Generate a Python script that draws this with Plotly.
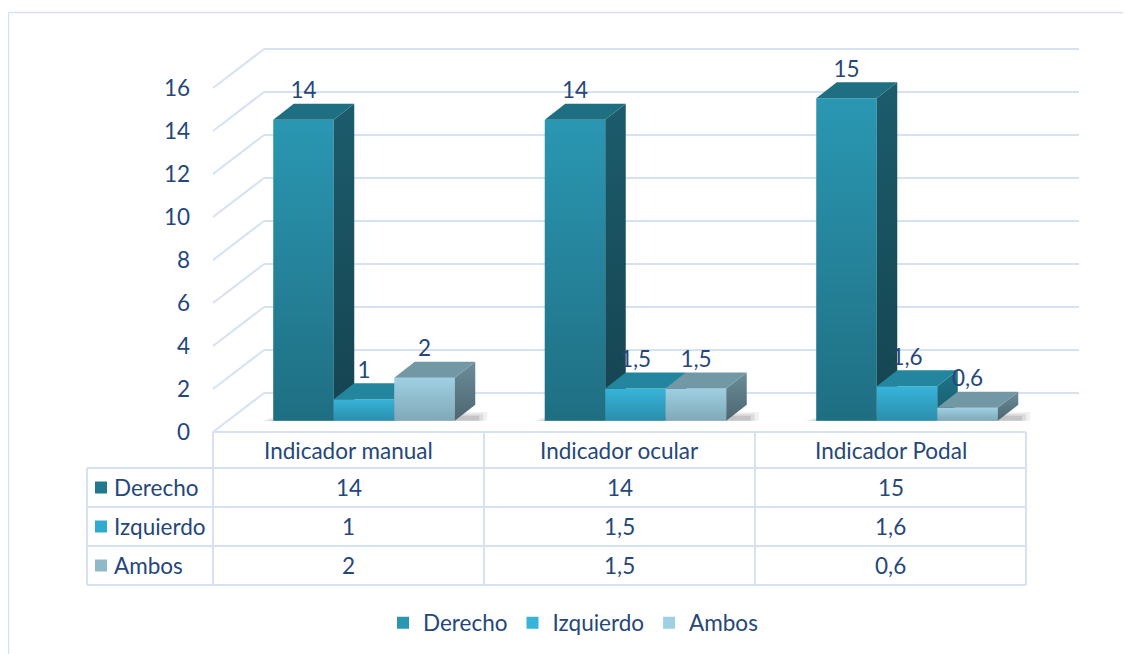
import plotly.graph_objects as go

# ---------------- data ----------------
categories = ["Indicador manual", "Indicador ocular", "Indicador Podal"]
series_names = ["Derecho", "Izquierdo", "Ambos"]
derecho = [14, 14, 15]
izquierdo = [1, 1.5, 1.6]
ambos = [2, 1.5, 0.6]
y_ticks = [0, 2, 4, 6, 8, 10, 12, 14, 16]

series_values = [derecho, izquierdo, ambos]

# ---------------- styling / layout constants ----------------
PAGE_OFF = 8                      # default body margin of the html page
W, H = 1131 - PAGE_OFF, 654 - PAGE_OFF
FONT = "Lato"
TXT = "#254779"
GRID = "#D6E2F2"
FS = 22.5

X0_PX, X_STEP = 364.0, 271.5      # pixel of first group centre, pixel per category
Y0_PX, Y_STEP = 420.7, 21.5       # pixel of value 0 (bar floor), pixel per unit
BAR_W = 60.5 / X_STEP
DX = 20.5 / X_STEP                # 3-D depth offset (x, in category units)
DY = 16.0 / Y_STEP                # 3-D depth offset (y, in value units)

front_col = ["#2A97B2", "#36B4DA", "#9ED0E3"]
front_shade = [0.27, 0.21, 0.19]
side_grad = [("#15434F", "#1C5C6D"), ("#175A6B", "#1F768B"), ("#4B6671", "#6B8D99")]
top_col = ["#1F6F83", "#24869E", "#7398A5"]
legend_col = ["#22798F", "#30AACF", "#8FB8C9"]


def ux(p):
    return (p - X0_PX) / X_STEP


def uy(p):
    return (Y0_PX - p) / Y_STEP


def paper_x(p):
    return (p - PAGE_OFF) / W


def paper_y(p):
    return 1 - (p - PAGE_OFF) / H


def fmt(v):
    return ("%g" % v).replace(".", ",")


fig = go.Figure()
axis_names = [("x", "y"), ("x2", "y2"), ("x3", "y3")]

for s, (name, vals) in enumerate(zip(series_names, series_values)):
    xa, ya = axis_names[s]
    offset = (-1.5 + s) * BAR_W
    # front faces
    fig.add_trace(go.Bar(
        x=list(range(len(categories))), y=vals, name=name,
        width=BAR_W, offset=offset,
        marker=dict(color=front_col[s], line=dict(width=0)),
        xaxis=xa, yaxis=ya, hoverinfo="skip", showlegend=True,
    ))
    for i, v in enumerate(vals):
        xl = i + offset
        xr = xl + BAR_W
        # shading of the front face (darker towards the floor)
        fig.add_trace(go.Scatter(
            x=[xl, xr, xr, xl, xl],
            y=[0, 0, v, v, 0],
            mode="lines", fill="toself", line=dict(width=0),
            fillgradient=dict(type="vertical",
                              colorscale=[[0, f"rgba(0,0,0,{front_shade[s]})"],
                                          [1, "rgba(0,0,0,0)"]]),
            xaxis=xa, yaxis=ya, hoverinfo="skip", showlegend=False,
        ))
        # side face
        fig.add_trace(go.Scatter(
            x=[xr, xr + DX, xr + DX, xr, xr],
            y=[0, DY, v + DY, v, 0],
            mode="lines", fill="toself", line=dict(width=0),
            fillgradient=dict(type="vertical",
                              colorscale=[[0, side_grad[s][0]], [1, side_grad[s][1]]]),
            xaxis=xa, yaxis=ya, hoverinfo="skip", showlegend=False,
        ))
        # top face
        fig.add_trace(go.Scatter(
            x=[xl, xl + DX, xr + DX, xr, xl],
            y=[v, v + DY, v + DY, v, v],
            mode="lines", fill="toself", line=dict(width=0),
            fillcolor=top_col[s],
            xaxis=xa, yaxis=ya, hoverinfo="skip", showlegend=False,
        ))

# value labels (on the topmost overlay)
lab_x, lab_y, lab_t = [], [], []
for s, vals in enumerate(series_values):
    offset = (-1.5 + s) * BAR_W
    for i, v in enumerate(vals):
        lab_x.append(i + offset + BAR_W / 2)
        lab_y.append(v + DY)
        lab_t.append(fmt(v))
fig.add_trace(go.Scatter(
    x=lab_x, y=lab_y, text=lab_t, mode="text", textposition="top center",
    textfont=dict(family=FONT, size=FS, color=TXT),
    xaxis="x3", yaxis="y3", hoverinfo="skip", showlegend=False,
))

# invisible trace to carry the tick-label axis
fig.add_trace(go.Scatter(x=[0], y=[0], mode="markers", marker=dict(opacity=0),
                         xaxis="x", yaxis="y4", hoverinfo="skip", showlegend=False))

xr_ = [ux(PAGE_OFF), ux(PAGE_OFF + W)]
yr_ = [uy(PAGE_OFF + H), uy(PAGE_OFF)]

shapes = []
# back-wall and side-wall gridlines
FRONT_L, BACK_L, BACK_R = 213, 264, 1079
for t in y_ticks:
    yf = uy(432 - Y_STEP * t)
    yb = uy(393 - Y_STEP * t)
    shapes.append(dict(type="line", xref="x", yref="y", x0=ux(FRONT_L), y0=yf,
                       x1=ux(BACK_L), y1=yb, line=dict(color=GRID, width=2), layer="below"))
    shapes.append(dict(type="line", xref="x", yref="y", x0=ux(BACK_L), y0=yb,
                       x1=ux(BACK_R), y1=yb, line=dict(color=GRID, width=2), layer="below"))

# soft floor shadows under each group
for i in range(len(categories)):
    xl = i - 1.5 * BAR_W
    xr = i + 1.5 * BAR_W
    for k, op in enumerate([0.06, 0.09, 0.12]):
        g = (3 - k) * 4 / X_STEP
        h = DY * (0.55 - 0.12 * k)
        path = (f"M {xl - g} 0 L {xr + DX + g} 0 L {xr + DX + g} {h} "
                f"L {xl + DX} {h} Z")
        shapes.append(dict(type="path", xref="x", yref="y", path=path,
                           fillcolor=f"rgba(20,20,20,{op})", line=dict(width=0), layer="below"))

# outer chart border (top and left visible)
shapes.append(dict(type="line", xref="paper", yref="paper", x0=paper_x(8.5), y0=paper_y(12.5),
                   x1=1.0, y1=paper_y(12.5), line=dict(color=GRID, width=1.5)))
shapes.append(dict(type="line", xref="paper", yref="paper", x0=paper_x(8.5), y0=paper_y(12.5),
                   x1=paper_x(8.5), y1=0, line=dict(color=GRID, width=1.5)))

# data table grid
T_LEFT, T_LAB, COL_W = 87, 213, 271
T_TOP, HDR_B, ROW_H = 432, 468, 39
n_rows = len(series_names)
t_right = T_LAB + COL_W * len(categories)
t_bottom = HDR_B + ROW_H * n_rows
tl = dict(color=GRID, width=2)
shapes.append(dict(type="line", xref="paper", yref="paper", x0=paper_x(T_LAB), y0=paper_y(T_TOP),
                   x1=paper_x(t_right), y1=paper_y(T_TOP), line=tl))
for r in range(n_rows + 1):
    yy = HDR_B + ROW_H * r
    shapes.append(dict(type="line", xref="paper", yref="paper", x0=paper_x(T_LEFT), y0=paper_y(yy),
                       x1=paper_x(t_right), y1=paper_y(yy), line=tl))
shapes.append(dict(type="line", xref="paper", yref="paper", x0=paper_x(T_LEFT), y0=paper_y(HDR_B),
                   x1=paper_x(T_LEFT), y1=paper_y(t_bottom), line=tl))
for c in range(len(categories) + 1):
    xx = T_LAB + COL_W * c
    shapes.append(dict(type="line", xref="paper", yref="paper", x0=paper_x(xx), y0=paper_y(T_TOP),
                       x1=paper_x(xx), y1=paper_y(t_bottom), line=tl))

annotations = []
tfont = dict(family=FONT, size=FS, color=TXT)
for c, cat in enumerate(categories):
    annotations.append(dict(xref="paper", yref="paper", x=paper_x(T_LAB + COL_W * (c + 0.5)),
                            y=paper_y((T_TOP + HDR_B) / 2), text=cat, showarrow=False,
                            xanchor="center", yanchor="middle", font=tfont))
for r, (name, vals) in enumerate(zip(series_names, series_values)):
    yc = HDR_B + ROW_H * (r + 0.5)
    shapes.append(dict(type="rect", xref="paper", yref="paper",
                       x0=paper_x(95), x1=paper_x(107), y0=paper_y(yc - 6), y1=paper_y(yc + 6),
                       fillcolor=legend_col[r], line=dict(width=0)))
    annotations.append(dict(xref="paper", yref="paper", x=paper_x(112), y=paper_y(yc),
                            text=name, showarrow=False, xanchor="left", yanchor="middle", font=tfont))
    for c, v in enumerate(vals):
        annotations.append(dict(xref="paper", yref="paper", x=paper_x(T_LAB + COL_W * (c + 0.5)),
                                y=paper_y(yc), text=fmt(v), showarrow=False,
                                xanchor="center", yanchor="middle", font=tfont))

layout = dict(
    width=W, height=H, autosize=False,
    margin=dict(l=0, r=0, t=0, b=0, pad=0),
    paper_bgcolor="white", plot_bgcolor="white",
    barmode="overlay",
    showlegend=True,
    legend=dict(orientation="h", x=paper_x(573), xanchor="center", y=paper_y(623), yanchor="middle",
                font=dict(family=FONT, size=FS, color=TXT), itemwidth=30,
                traceorder="normal", bgcolor="rgba(0,0,0,0)"),
    shapes=shapes, annotations=annotations,
    xaxis=dict(range=xr_, visible=False, domain=[0, 1], fixedrange=True),
    yaxis=dict(range=yr_, visible=False, domain=[0, 1], fixedrange=True),
    xaxis2=dict(range=xr_, visible=False, overlaying="x", fixedrange=True),
    yaxis2=dict(range=yr_, visible=False, overlaying="y", fixedrange=True),
    xaxis3=dict(range=xr_, visible=False, overlaying="x", fixedrange=True),
    yaxis3=dict(range=yr_, visible=False, overlaying="y", fixedrange=True),
    yaxis4=dict(range=[(432 - PAGE_OFF - H) / Y_STEP, (432 - PAGE_OFF) / Y_STEP],
                overlaying="y", anchor="free",
                position=paper_x(190), side="left", tickvals=y_ticks,
                ticktext=[str(t) for t in y_ticks], showgrid=False, zeroline=False,
                showline=False, ticks="", tickfont=dict(family=FONT, size=FS, color=TXT),
                fixedrange=True),
    font=dict(family=FONT, color=TXT),
)
fig.update_layout(**layout)
fig.write_html("out.html")
